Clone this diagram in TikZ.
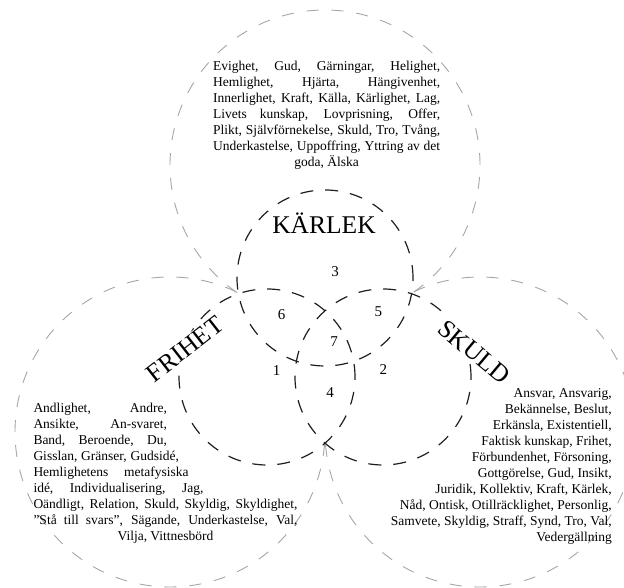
\documentclass[tikz,border=0pt]{standalone}
\usepackage{fontspec}
\setmainfont{Liberation Serif}
\newcommand\jline[2]{\makebox[#1][s]{#2}}
\newcommand\firstrule{\rule{0pt}{10.5pt}}
\begin{document}
\begin{tikzpicture}[x=1pt,y=1pt,
  outer/.style={draw=black!35, line width=0.9pt, dash pattern=on 12pt off 13pt},
  inner/.style={draw=black!88, line width=1.2pt, dash pattern=on 13pt off 12pt},
  words/.style={inner sep=0pt, font=\fontsize{13.5}{16}\selectfont},
  big/.style={inner sep=0pt, font=\fontsize{25.5}{30}\selectfont},
  bigcut/.style={big, fill=white, inner sep=1.5pt},
  num/.style={inner sep=0pt, font=\fontsize{15}{18}\selectfont}]
\useasboundingbox (0,0) rectangle (624,588);
% centres
\coordinate (ck) at (325,310);
\coordinate (cf) at (267,211);
\coordinate (cs) at (383,211);
\coordinate (ot) at (325,423);
\coordinate (ol) at (170,156);
\coordinate (or) at (480,156);
% outer grey circles
\draw[outer] (ot) circle[radius=155];
\draw[outer] (ol) circle[radius=155];
\draw[outer] (or) circle[radius=155];
% hide their inner parts
\fill[white] (ck) circle[radius=88];
\fill[white] (cf) circle[radius=88];
\fill[white] (cs) circle[radius=88];
% inner dashed circles
\draw[inner] (ck) circle[radius=88];
\draw[inner] (cf) circle[radius=88];
\draw[inner] (cs) circle[radius=88];
% labels
\node[big, anchor=base] (karlek) at (324,354) {KÄRLEK};
\node[bigcut, rotate=38] (frihet) at (185,239) {FRIHET};
\node[bigcut, rotate=-40] (skuld) at (474,236) {SKULD};
% numbers
\node[num] (n3) at (335,316.3) {3};
\node[num] (n6) at (281.7,273) {6};
\node[num] (n5) at (378.3,276.3) {5};
\node[num] (n7) at (334,246.8) {7};
\node[num] (n1) at (276.7,217.3) {1};
\node[num] (n2) at (383.3,218) {2};
\node[num] (n4) at (330,195) {4};
% text blocks
\node[words, anchor=north west, align=left] (toptext) at (213,528) {%
\firstrule\jline{227pt}{Evighet, Gud, Gärningar, Helighet,}\\
\jline{227pt}{Hemlighet, Hjärta, Hängivenhet,}\\
\jline{227pt}{Innerlighet, Kraft, Källa, Kärlighet, Lag,}\\
\jline{227pt}{Livets kunskap, Lovprisning, Offer,}\\
\jline{227pt}{Plikt, Självförnekelse, Skuld, Tro, Tvång,}\\
\jline{227pt}{Underkastelse, Uppoffring, Yttring av det}\\
\makebox[227pt][c]{goda, Älska}};
\node[words, anchor=north west, align=left] (lefttext) at (33.3,186.2) {%
\firstrule\jline{133.4pt}{Andlighet, Andre,}\\
\jline{133.4pt}{Ansikte, An-svaret,}\\
\jline{133.4pt}{Band, Beroende, Du,}\\
\jline{145.5pt}{Gisslan, Gränser, Gudsidé,}\\
\jline{155pt}{Hemlighetens metafysiska}\\
\jline{170pt}{idé, Individualisering, Jag,}\\
\jline{264pt}{Oändligt, Relation, Skuld, Skyldig, Skyldighet,}\\
\jline{264pt}{”Stå till svars”, Sägande, Underkastelse, Val,}\\
\makebox[264pt][c]{Vilja, Vittnesbörd}};
\node[words, anchor=north east, align=right] (righttext) at (612,201.2) {%
\firstrule Ansvar, Ansvarig,\\
Bekännelse, Beslut,\\
Erkänsla, Existentiell,\\
Faktisk kunskap, Frihet,\\
Förbundenhet, Försoning,\\
Gottgörelse, Gud, Insikt,\\
Juridik, Kollektiv, Kraft, Kärlek,\\
Nåd, Ontisk, Otillräcklighet, Personlig,\\
Samvete, Skyldig, Straff, Synd, Tro, Val,\\
Vedergällning};
\end{tikzpicture}
\end{document}
